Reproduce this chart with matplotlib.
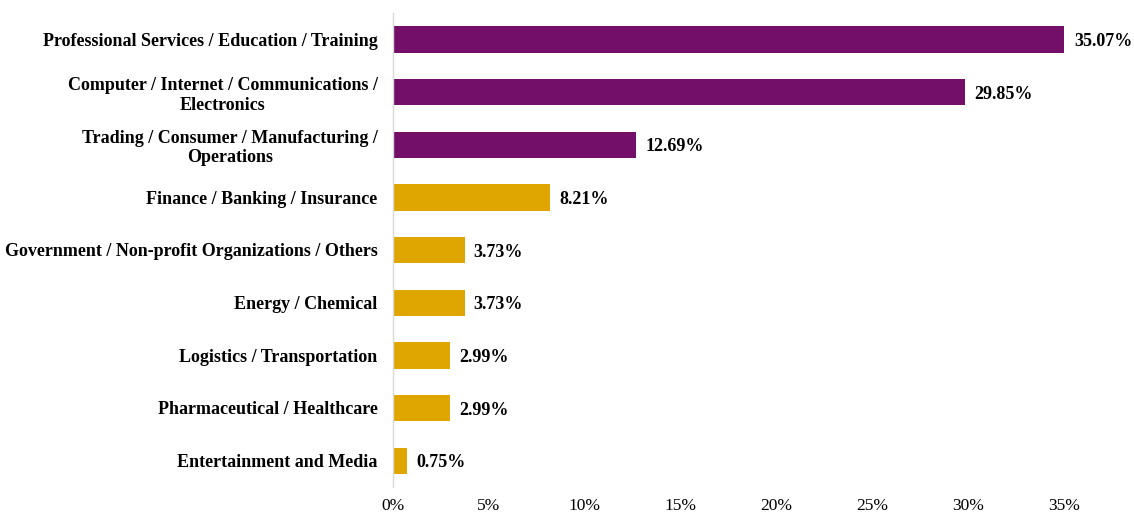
import matplotlib
matplotlib.use("Agg")
import matplotlib.pyplot as plt
from matplotlib.ticker import FuncFormatter

categories = [
    "Professional Services / Education / Training",
    "Computer / Internet / Communications /\nElectronics",
    "Trading / Consumer / Manufacturing /\nOperations",
    "Finance / Banking / Insurance",
    "Government / Non-profit Organizations / Others",
    "Energy / Chemical",
    "Logistics / Transportation",
    "Pharmaceutical / Healthcare",
    "Entertainment and Media",
]
values = [35.07, 29.85, 12.69, 8.21, 3.73, 3.73, 2.99, 2.99, 0.75]
highlight = [True, True, True, False, False, False, False, False, False]
xticks = [0, 5, 10, 15, 20, 25, 30, 35]

PURPLE = "#730F69"
GOLD = "#DFA500"

plt.rcParams['font.family'] = ['Liberation Serif', 'DejaVu Serif']

fig = plt.figure(figsize=(11.34, 5.15), dpi=100)
ax = fig.add_axes([393/1134, 1 - 487/515, (1064-393)/1134, (487-13)/515])

ypos = list(range(len(categories)))
colors = [PURPLE if h else GOLD for h in highlight]
ax.barh(ypos, values, height=0.5, color=colors)
ax.set_ylim(len(categories) - 0.5, -0.5)
ax.set_xlim(0, 35)
ax.set_yticks(ypos)
ax.set_yticklabels(categories, fontsize=13, fontweight='bold')
for lbl in ax.get_yticklabels():
    lbl.set_multialignment('center')
    lbl.set_linespacing(1.2)
ax.set_xticks(xticks)
ax.xaxis.set_major_formatter(FuncFormatter(lambda v, p: f"{v:.0f}%"))
for lbl in ax.get_xticklabels():
    lbl.set_fontsize(12.5)
ax.tick_params(axis='both', length=0)
ax.tick_params(axis='y', pad=11)
ax.tick_params(axis='x', pad=8)
for s in ['top', 'right', 'bottom']:
    ax.spines[s].set_visible(False)
ax.spines['left'].set_color('#D9D9D9')
ax.spines['left'].set_linewidth(1)

for y, v in zip(ypos, values):
    ax.text(v + 0.48, y + 0.04, f"{v:.2f}%", va='center', ha='left', fontsize=13,
            fontweight='bold', clip_on=False)

fig.savefig("out.png", dpi=100)
